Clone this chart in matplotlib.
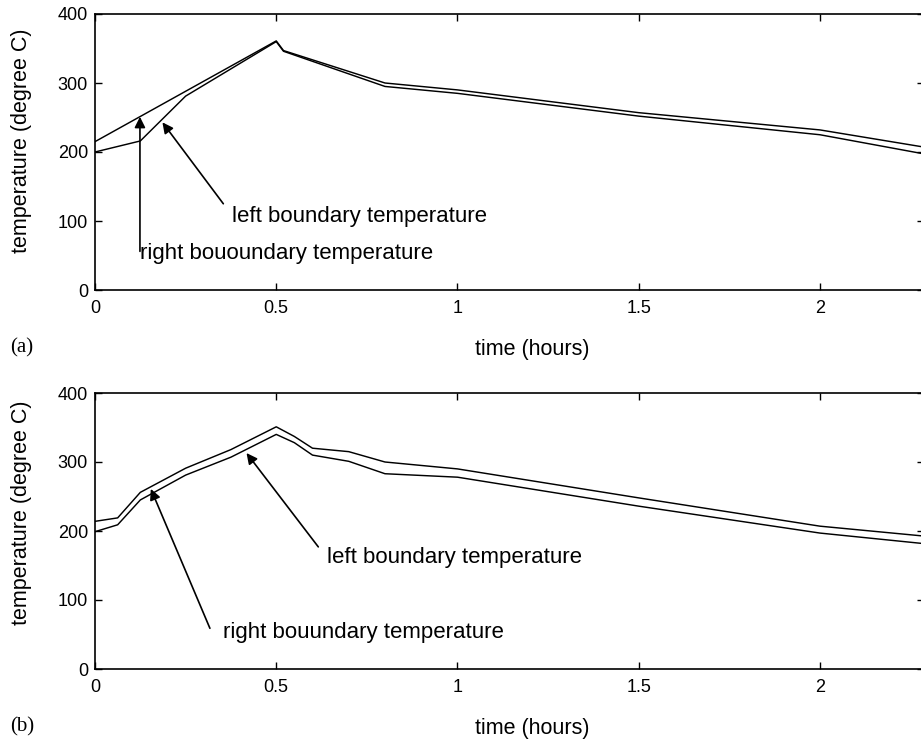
import matplotlib
matplotlib.use("Agg")
import matplotlib.pyplot as plt

# panel (a) : boundary temperatures
t_right_a = [0, 0.5, 0.52, 0.8, 1.0, 1.5, 2.0, 2.3]
T_right_a = [215, 361, 347, 300, 290, 257, 232, 206]
t_left_a = [0, 0.125, 0.25, 0.5, 0.52, 0.8, 1.0, 1.5, 2.0, 2.3]
T_left_a = [200, 216, 281, 360, 346, 295, 285, 252, 225, 196]

# panel (b)
t_b = [0, 0.0625, 0.125, 0.25, 0.375, 0.5, 0.55, 0.6, 0.7, 0.8, 1.0, 1.5, 2.0, 2.3]
T_upper_b = [214, 219, 256, 291, 318, 351, 337, 320, 315, 300, 290, 248, 207, 192]
T_lower_b = [199, 209, 245, 281, 307, 340, 328, 310, 301, 283, 278, 236, 197, 181]

xticks = [0, 0.5, 1, 1.5, 2]
xticklabels = ["0", "0.5", "1", "1.5", "2"]
yticks = [0, 100, 200, 300, 400]

W, H = 921, 742
SANS = ["Liberation Sans", "DejaVu Sans"]
SERIF = ["Liberation Serif", "DejaVu Serif"]
LBL = 15.5
ANN = 16

plt.rcParams["font.family"] = SANS

fig = plt.figure(figsize=(W / 100, H / 100), dpi=100)


def px_axes(left, right, top, bottom):
    return fig.add_axes([left / W, 1 - bottom / H, (right - left) / W, (bottom - top) / H])


def style(ax, ylab_y):
    ax.set_xlim(0, 2.287)
    ax.set_ylim(0, 400)
    ax.set_xticks(xticks)
    ax.set_xticklabels(xticklabels)
    ax.set_yticks(yticks)
    ax.tick_params(direction="in", length=5, width=1.0, top=True, right=True,
                   labelsize=13, colors="black")
    ax.tick_params(axis="x", pad=7)
    ax.tick_params(axis="y", pad=5)
    for s in ax.spines.values():
        s.set_linewidth(1.2)
    ax.set_xlabel("time (hours)", fontsize=LBL)
    ax.xaxis.set_label_coords(0.528, -0.178)
    ax.set_ylabel("temperature (degree C)", fontsize=LBL)
    ax.yaxis.set_label_coords(-0.076, ylab_y)


arrow = dict(arrowstyle="-|>", color="black", lw=1.2, mutation_scale=16,
             shrinkA=0, shrinkB=0)

# ---- (a)
ax1 = px_axes(95, 924, 14, 290)
ax1.plot(t_right_a, T_right_a, color="black", lw=1.05)
ax1.plot(t_left_a, T_left_a, color="black", lw=1.05)
style(ax1, 0.542)
ax1.annotate("", xy=(0.186, 243), xytext=(0.354, 125), arrowprops=arrow)
ax1.text(0.378, 98, "left boundary temperature", fontsize=ANN, va="baseline")
ax1.annotate("", xy=(0.124, 251), xytext=(0.124, 56), arrowprops=arrow)
ax1.text(0.124, 44.5, "right bououndary temperature", fontsize=ANN, va="baseline")
fig.text(10 / W, 1 - 348 / H, "(a)", family=SERIF, fontsize=15, va="center")

# ---- (b)
ax2 = px_axes(95, 924, 393, 669)
ax2.plot(t_b, T_upper_b, color="black", lw=1.05)
ax2.plot(t_b, T_lower_b, color="black", lw=1.05)
style(ax2, 0.565)
ax2.annotate("", xy=(0.418, 313), xytext=(0.616, 177), arrowprops=arrow)
ax2.text(0.639, 154, "left boundary temperature", fontsize=ANN, va="baseline")
ax2.annotate("", xy=(0.154, 261), xytext=(0.317, 59), arrowprops=arrow)
ax2.text(0.354, 44.5, "right bouundary temperature", fontsize=ANN, va="baseline")
fig.text(10 / W, 1 - 727 / H, "(b)", family=SERIF, fontsize=15, va="center")

fig.savefig("out.png", dpi=100)
